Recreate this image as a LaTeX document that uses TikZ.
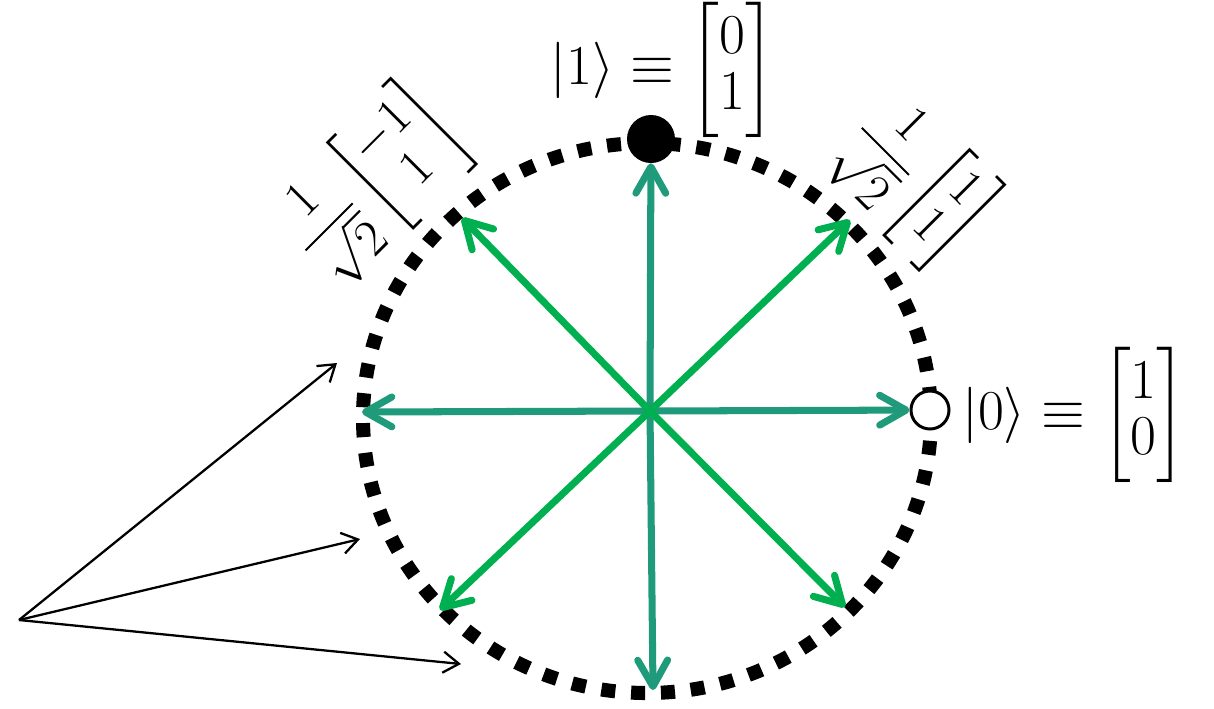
\documentclass[tikz,border=0pt]{standalone}
\usepackage{amsmath,amssymb}
\usepackage{graphicx}
\usepackage{tikz}
\usetikzlibrary{arrows.meta,positioning}

\definecolor{vecteal}{RGB}{31,154,122}
\definecolor{vecgreen}{RGB}{0,176,80}
\newcommand{\qmath}[2][1.29]{\scalebox{#1}{$\displaystyle #2$}}

\begin{document}
\begin{tikzpicture}[
    x=0.02cm, y=-0.02cm,
    lbl/.style={font=\fontsize{24.88}{25}\selectfont, inner sep=0pt},
    basisvec/.style={-{Straight Barb[length=15pt,width=17pt,round]}, line width=4pt, vecteal, line cap=round},
    diagvec/.style={basisvec, vecgreen},
    pointer/.style={-{Straight Barb[length=9pt,width=12pt]}, line width=1.3pt}
]
    \useasboundingbox (0,0) rectangle (1214,708);

    % dotted unit circle
    \draw[line width=8pt, dash pattern=on 8pt off 9pt, dash phase=4pt]
        (647,418) ellipse [x radius=284, y radius=275];

    \coordinate (o) at (650,411);
    \coordinate (w) at (362,412);
    \coordinate (s) at (653,690);
    \coordinate (ne) at (850,220);
    \coordinate (nw) at (462,218);
    \coordinate (sw) at (440,610);
    \coordinate (se) at (845,607);

    \node[circle, fill, inner sep=0pt, minimum size=0.96cm] (one) at (651,139) {};
    \node[circle, draw, fill=white, line width=1.7pt, inner sep=0pt, minimum size=0.76cm] (zero) at (930,410) {};

    \draw[basisvec] (o) -- (one);
    \draw[basisvec] (o) -- (zero);
    \draw[basisvec] (o) -- (w);
    \draw[basisvec] (o) -- (s);
    \draw[diagvec] (o) -- (ne);
    \draw[diagvec] (o) -- (nw);
    \draw[diagvec] (o) -- (sw);
    \draw[diagvec] (o) -- (se);

    \node[lbl] (ketone) at (663,70) {\qmath{|1\rangle \equiv \begin{bmatrix}0\\1\end{bmatrix}}};
    \node[lbl, anchor=west] (ketzero) at (962,415) {\qmath{|0\rangle \equiv \begin{bmatrix}1\\0\end{bmatrix}}};
    \node[lbl, rotate=45] (minus) at (374,182) {\qmath[1.18]{\frac{1}{\sqrt{2}}\begin{bmatrix}-1\\1\end{bmatrix}}};
    \node[lbl, rotate=-45] (plus) at (916,182) {\qmath[1.18]{\frac{1}{\sqrt{2}}\begin{bmatrix}1\\1\end{bmatrix}}};

    % pointers
    \coordinate (src) at (19,620);
    \coordinate (pa) at (337,363);
    \coordinate (pb) at (360,539);
    \coordinate (pc) at (461,664);
    \draw[pointer] (src) -- (pa);
    \draw[pointer] (src) -- (pb);
    \draw[pointer] (src) -- (pc);
\end{tikzpicture}
\end{document}
